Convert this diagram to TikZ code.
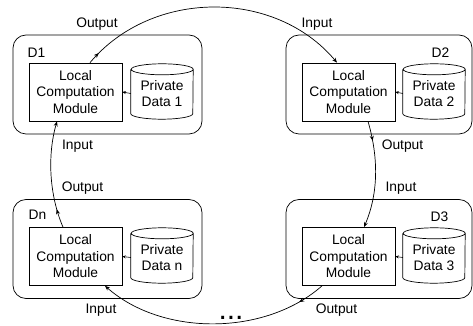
\documentclass[tikz,border=0pt]{standalone}
\usepackage{fontspec}
\setmainfont{Liberation Sans}
\usetikzlibrary{arrows.meta,decorations.markings}
\newcommand\lblfont{\fontsize{13.8}{16.5}\selectfont}
\newcommand\drawcyl[1]{\draw[line width=0.7pt] ([yshift=-3.5pt]#1.north west) -- ([yshift=7.5pt]#1.south west) arc[start angle=180,end angle=360,x radius=31pt,y radius=5.5pt] -- ([yshift=-3.5pt]#1.north east) arc[start angle=0,end angle=180,x radius=31pt,y radius=5.5pt] arc[start angle=180,end angle=360,x radius=31pt,y radius=5.5pt];}
\begin{document}
\begin{tikzpicture}[x=1pt,y=1pt,
  outer/.style={draw, line width=0.7pt, rounded corners=13pt, minimum width=189pt, minimum height=99pt, inner sep=0pt},
  lcm/.style={draw, line width=0.7pt, align=center, minimum width=93pt, minimum height=58pt, inner sep=0pt, font=\lblfont},
  cylnode/.style={align=center, minimum width=62pt, minimum height=55pt, inner sep=0pt, font=\lblfont},
  lab/.style={font=\lblfont, inner sep=0pt},
  conn/.style={-{Stealth[length=5pt,width=4pt]}, line width=0.7pt},
  midarr/.style={postaction={decorate}, decoration={markings, mark=at position #1 with {\arrow{Stealth[length=5pt,width=4pt]}}}},
  small/.style={-{Stealth[length=3.5pt,width=3pt]}, line width=0.6pt}]
\useasboundingbox (0,0) rectangle (473,326);
% outer device boxes
\node[outer] (b1) at (107.5,241.5) {};
\node[outer, minimum width=186pt] (b2) at (379,241.5) {};
\node[outer, minimum width=186pt] (b3) at (379,77) {};
\node[outer] (bn) at (107.5,77) {};
% device labels
\node[lab] (l1) at (36.5,273) {D1};
\node[lab] (l2) at (440.5,273) {D2};
\node[lab] (l3) at (439.5,109) {D3};
\node[lab] (ln) at (37.5,111) {Dn};
% local computation modules
\node[lcm] (m1) at (75.5,234) {Local\\Computation\\Module};
\node[lcm] (m2) at (348.5,234) {Local\\Computation\\Module};
\node[lcm] (m3) at (348.5,69.5) {Local\\Computation\\Module};
\node[lcm] (mn) at (75.5,69.5) {Local\\Computation\\Module};
% private data
\node[cylnode] (c1) at (162,232.5) {Private\\Data 1};
\node[cylnode] (c2) at (434,232.5) {Private\\Data 2};
\node[cylnode] (c3) at (434,68.5) {Private\\Data 3};
\node[cylnode] (cn) at (162,68.5) {Private\\Data n};
\drawcyl{c1}\drawcyl{c2}\drawcyl{c3}\drawcyl{cn}
\draw[small] (c1.west) -- (m1.east);
\draw[small] (c2.west) -- (m2.east);
\draw[small] (c3.west) -- (m3.east);
\draw[small] (cn.west) -- (mn.east);
% ring connectors
\draw[conn, midarr=13pt] ([xshift=14.5pt]m1.north) to[out=50,in=130] ([xshift=-11.5pt]m2.north);
\draw[conn, midarr=20pt] ([xshift=19.5pt]m2.south) to[out=-73.7,in=66.8,looseness=0.9] ([xshift=15.5pt]m3.north);
\draw[conn, midarr=28pt] ([xshift=-26.5pt]m3.south) to[out=-138.6,in=-41.4,looseness=0.9] ([xshift=29.5pt]mn.south);
\draw[conn, midarr=19pt] ([xshift=-12.5pt]mn.north) to[out=113.2,in=-106,looseness=0.85] ([xshift=-18.5pt]m1.south);
% connector labels
\node[lab] (o1) at (97,302) {Output};
\node[lab] (i2) at (317,302) {Input};
\node[lab] (i1) at (77.5,180) {Input};
\node[lab] (o2) at (402.5,180) {Output};
\node[lab] (on) at (82.5,138) {Output};
\node[lab] (i3) at (401,138) {Input};
\node[lab] (in) at (101,16) {Input};
\node[lab] (o3) at (336.5,16) {Output};
\node[inner sep=0pt, anchor=base, font=\fontsize{30}{30}\selectfont] (dots) at (231,6.5) {...};
\end{tikzpicture}
\end{document}
